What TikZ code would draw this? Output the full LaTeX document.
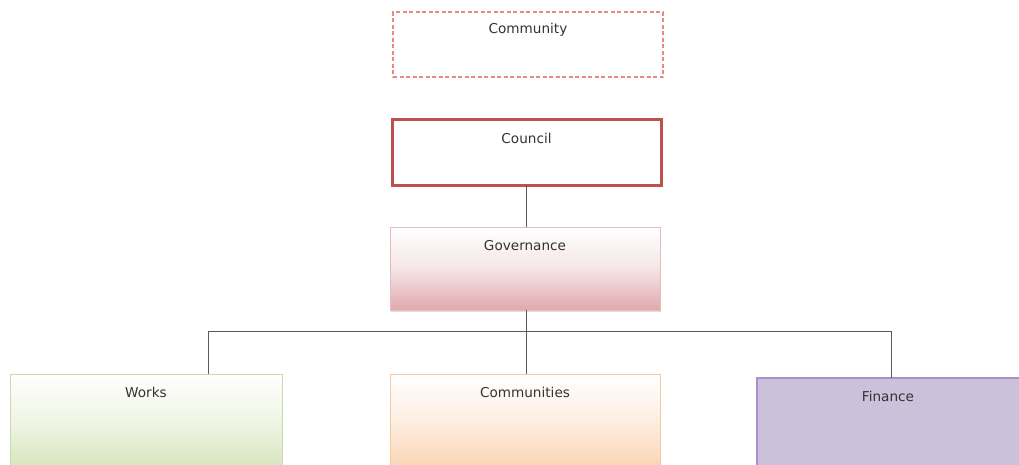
\documentclass[tikz,border=0pt]{standalone}
\usepackage{fontspec}
\setmainfont{DejaVu Sans}
\usetikzlibrary{shadows}
\definecolor{redline}{HTML}{C0504D}
\definecolor{dashred}{HTML}{E68A88}
\definecolor{pinkfill}{HTML}{DFA9AD}
\definecolor{pinkline}{HTML}{E6BCBD}
\definecolor{greenfill}{HTML}{D7E4BD}
\definecolor{greenline}{HTML}{C9DBA6}
\definecolor{orangefill}{HTML}{FBD3B2}
\definecolor{orangeline}{HTML}{F8C9A0}
\definecolor{violetfill}{HTML}{CCC1DA}
\definecolor{violetline}{HTML}{AE8DCB}
\definecolor{wire}{HTML}{5A5A5A}
\begin{document}
\begin{tikzpicture}[x=1pt,y=-1pt,
  box/.style={rectangle, inner sep=0pt, outer sep=0pt, minimum width=270pt},
  soft/.style={drop shadow={shadow xshift=0.6pt, shadow yshift=-1.8pt, opacity=0.25}},
  caption/.style={anchor=base, yshift=-23pt, font=\fontsize{13.6}{16}\selectfont, text=black!80},
  link/.style={draw=wire, line width=0.9pt}]
\clip (0,0) rectangle (1019,464);
\fill[white] (0,0) rectangle (1019,464);

% top level
\node[box, minimum height=65pt, draw=dashred, line width=1.1pt, dash pattern=on 4pt off 2.5pt,
  label={[caption, yshift=2pt]north:Community}] (community) at (528,44.5) {};
\node[box, minimum width=269pt, minimum height=66pt, draw=redline, line width=3pt, fill=white,
  label={[caption, yshift=-1pt]north:Council}] (council) at (526.5,152) {};

% governance
\node[box, minimum height=83pt, draw=pinkline, line width=1pt, soft,
  top color=white, bottom color=pinkfill, middle color=pinkfill!30!white,
  label={[caption]north:Governance}] (governance) at (525,268.5) {};

% departments
\node[box, minimum width=272pt, minimum height=96pt, draw=greenline, line width=1pt, soft,
  top color=white, bottom color=greenfill, middle color=greenfill!40!white,
  label={[caption]north:Works}] (works) at (146,422) {};
\node[box, minimum height=96pt, draw=orangeline, line width=1pt, soft,
  top color=white, bottom color=orangefill, middle color=orangefill!40!white,
  label={[caption]north:Communities}] (communities) at (525,422) {};
\node[box, minimum width=268pt, minimum height=92pt, draw=violetline, line width=1.2pt, fill=violetfill,
  label={[caption, xshift=-3pt]north:Finance}] (finance) at (891,424) {};

% connectors
\coordinate (hub) at (526,331);
\coordinate (worksdrop) at ([xshift=62pt]works.north);
\draw[link] (council.south) -- (council.south |- governance.north);
\draw[link] (governance.south -| hub) -- (hub);
\draw[link] (hub) -- (communities.north -| hub);
\draw[link] (hub) -| (worksdrop);
\draw[link] (hub) -| (finance.north);
\end{tikzpicture}
\end{document}
